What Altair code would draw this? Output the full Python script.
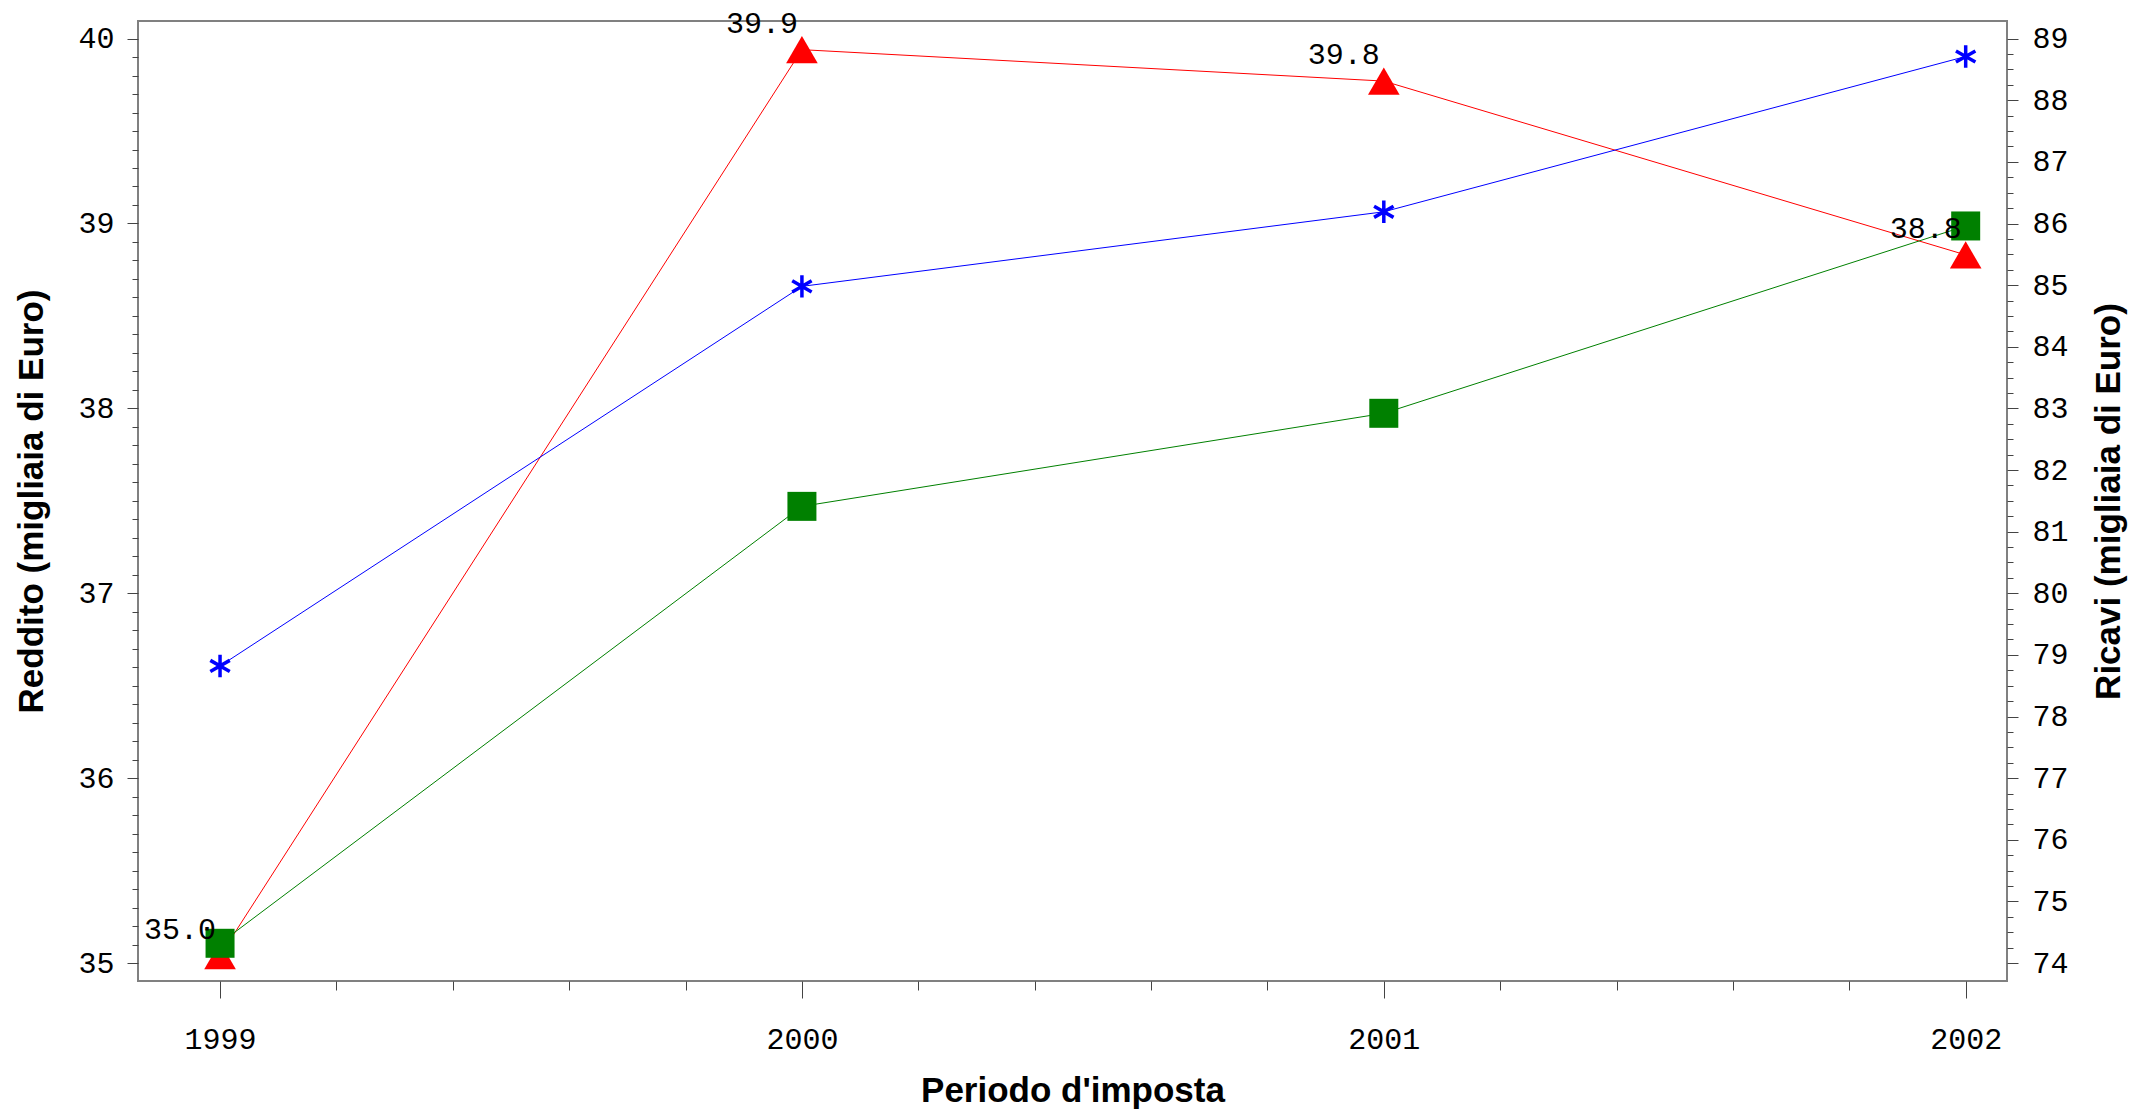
import altair as alt
import pandas as pd

# ---- data ----
years = [1999, 2000, 2001, 2002]
reddito = [35.04, 39.94, 39.77, 38.83]          # red triangles, left axis
ricavi_blue = [78.82, 84.98, 86.19, 88.71]      # blue asterisks, right axis
ricavi_green = [74.32, 81.41, 82.92, 85.96]     # green squares, right axis

x_ticks = [round(1999 + 0.2 * i, 1) for i in range(16)]
left_ticks = [round(35 + 0.1 * i, 1) for i in range(51)]
right_ticks = [round(74 + 0.25 * i, 2) for i in range(61)]

df_red = pd.DataFrame({"anno": years, "valore": reddito})
df_blue = pd.DataFrame({"anno": years, "valore": ricavi_blue})
df_green = pd.DataFrame({"anno": years, "valore": ricavi_green})

W, H = 1869, 960
MONO = "Liberation Mono"
SANS = "Liberation Sans"
MAJOR = "abs(datum.value - round(datum.value)) < 0.001"
LBL = f"{MAJOR} ? format(datum.value, 'd') : ''"
ASTERISK = "M0,-1L0,1M-0.87,-0.5L0.87,0.5M-0.87,0.5L0.87,-0.5"

x_enc = alt.X(
    "anno:Q",
    scale=alt.Scale(domain=[1998.859, 2002.071], nice=False, zero=False),
    axis=alt.Axis(
        values=x_ticks, labelExpr=LBL, labelOverlap=False, grid=False,
        tickSize={"condition": {"test": MAJOR, "value": 17}, "value": 9},
        labelPadding=26, title="Periodo d'imposta", titlePadding=19,
    ),
)

left_scale = alt.Scale(domain=[34.903, 40.095], nice=False, zero=False)
right_scale = alt.Scale(domain=[73.708, 89.286], nice=False, zero=False)

y_left = alt.Y(
    "valore:Q", scale=left_scale,
    axis=alt.Axis(
        orient="left", values=left_ticks, labelExpr=LBL, labelOverlap=False, grid=False,
        tickSize={"condition": {"test": MAJOR, "value": 11}, "value": 6},
        labelPadding=13, title="Reddito (migliaia di Euro)", titlePadding=28,
    ),
)
y_right = alt.Y(
    "valore:Q", scale=right_scale,
    axis=alt.Axis(
        orient="right", values=right_ticks, labelExpr=LBL, labelOverlap=False, grid=False,
        tickSize={"condition": {"test": MAJOR, "value": 11}, "value": 6},
        labelPadding=14, title="Ricavi (migliaia di Euro)", titlePadding=58, titleAngle=270,
    ),
)
y_lab = alt.Y("valore:Q", scale=left_scale, axis=None)

red_line = alt.Chart(df_red).mark_line(color="#ff0000", strokeWidth=1).encode(x=x_enc, y=y_left)
red_pts = alt.Chart(df_red).mark_point(
    shape="triangle-up", filled=True, size=1000, color="#ff0000", opacity=1
).encode(x=x_enc, y=y_left)
left_layer = alt.layer(red_line, red_pts)

blue_line = alt.Chart(df_blue).mark_line(color="#0000ff", strokeWidth=1).encode(x=x_enc, y=y_right)
blue_pts = alt.Chart(df_blue).mark_point(
    shape=ASTERISK, filled=False, size=500, color="#0000ff", strokeWidth=3.5, opacity=1
).encode(x=x_enc, y=y_right)
green_line = alt.Chart(df_green).mark_line(color="#008000", strokeWidth=1).encode(x=x_enc, y=y_right)
green_pts = alt.Chart(df_green).mark_point(
    shape="square", filled=True, size=841, color="#008000", opacity=1
).encode(x=x_enc, y=y_right)
right_layer = alt.layer(blue_line, blue_pts, green_line, green_pts)

labels = alt.Chart(df_red).mark_text(
    font=MONO, fontSize=30, color="black", align="right", baseline="alphabetic", dx=-4, dy=-17
).encode(x=x_enc, y=y_lab, text=alt.Text("valore:Q", format=".1f"))

chart = (
    alt.layer(left_layer, right_layer, labels)
    .resolve_scale(y="independent")
    .properties(
        width=W, height=H,
        autosize=alt.AutoSizeParams(type="none"),
        padding={"left": 130, "top": 13, "right": 123, "bottom": 129},
        background="white",
    )
    .configure_view(stroke="#808080", strokeWidth=2)
    .configure_axis(
        domain=False, tickColor="#444444", tickWidth=1,
        labelFont=MONO, labelFontSize=30, labelColor="black",
        titleFont=SANS, titleFontSize=35, titleFontWeight="bold", titleColor="black",
    )
)

chart.save("out.html", embed_options={"renderer": "svg", "actions": False})
